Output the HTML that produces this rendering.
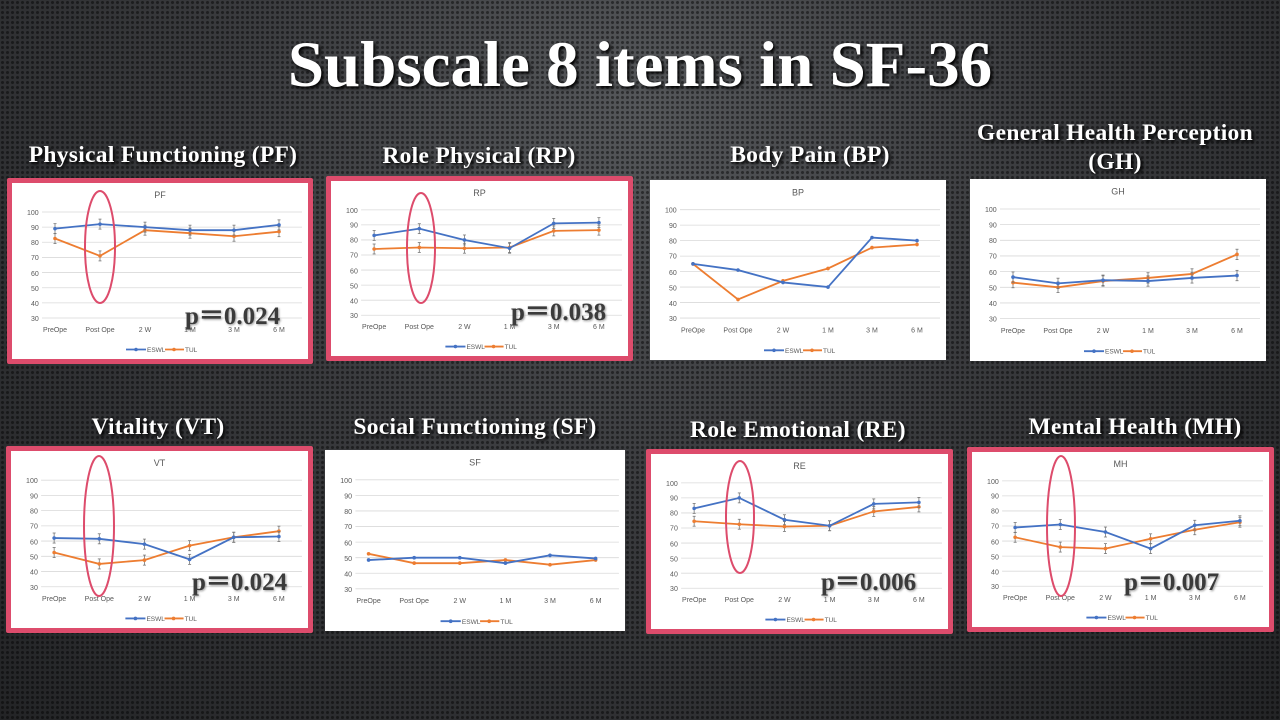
<!DOCTYPE html>
<html><head><meta charset="utf-8"><style>
html,body{margin:0;padding:0}
body{width:1280px;height:720px;overflow:hidden;position:relative;font-family:"Liberation Serif",serif;
background:radial-gradient(ellipse at 50% 15%,#55575a 0%,#3a3b3e 45%,#232426 100%);}
body:before{content:"";position:absolute;inset:0;background-image:radial-gradient(circle,rgba(0,0,0,0.45) 1.3px,transparent 1.8px);background-size:5px 5px;}
.h{position:absolute;color:#fff;font-weight:bold;text-align:center;white-space:nowrap;transform:translateX(-50%);text-shadow:2px 2px 3px #000}
.main{font-size:65px;left:640px;top:28px}
.t{font-size:23.5px;letter-spacing:0.3px}
.box{position:absolute;background:#fff}
.red{position:absolute;border:5px solid #dd4c6c;border-radius:2px}
.box svg{width:100%;height:100%;display:block}
.p{position:absolute;font-weight:bold;font-size:25px;color:#3b3b3b;text-shadow:1px 1px 2px #999;white-space:nowrap}
svg text{font-family:"Liberation Sans",sans-serif;fill:#595959}
</style></head><body>
<div class="h main">Subscale 8 items in SF-36</div>
<div class="h t" style="left:163px;top:142px">Physical Functioning (PF)</div>
<div class="h t" style="left:479px;top:143px">Role Physical (RP)</div>
<div class="h t" style="left:810px;top:142px">Body Pain (BP)</div>
<div class="h t" style="left:1115px;top:119px;line-height:29px">General Health Perception<br>(GH)</div>
<div class="h t" style="left:158px;top:414px">Vitality (VT)</div>
<div class="h t" style="left:475px;top:414px">Social Functioning (SF)</div>
<div class="h t" style="left:798px;top:417px">Role Emotional (RE)</div>
<div class="h t" style="left:1135px;top:414px">Mental Health (MH)</div>

<div class="red" style="left:7px;top:178px;width:296px;height:176px"></div>
<div class="red" style="left:326px;top:176px;width:297px;height:175px"></div>
<div class="red" style="left:6px;top:446px;width:297px;height:177px"></div>
<div class="red" style="left:646px;top:449px;width:297px;height:175px"></div>
<div class="red" style="left:967px;top:447px;width:297px;height:175px"></div>

<div class="box" style="left:12px;top:183px;width:296px;height:176px"><svg viewBox="0 0 296 176" preserveAspectRatio="none" class="c" data-e="89,92,90,88,88,91.5" data-t="82.5,71,88,86,84,87" data-err="1"><text x="148" y="15" font-size="9" text-anchor="middle">PF</text></svg></div>
<div class="box" style="left:331px;top:181px;width:297px;height:175px"><svg viewBox="0 0 296 176" preserveAspectRatio="none" class="c" data-e="83,87.5,80,74.5,91,91.5" data-t="74,75,74.5,75,86,86.5" data-err="1"><text x="148" y="15" font-size="9" text-anchor="middle">RP</text></svg></div>
<div class="box" style="left:650px;top:180px;width:296px;height:180px"><svg viewBox="0 0 296 176" preserveAspectRatio="none" class="c" data-e="65,61,53,50,82,80" data-t="65,42,54,62,75.5,77.5" data-err="0"><text x="148" y="15" font-size="9" text-anchor="middle">BP</text></svg></div>
<div class="box" style="left:970px;top:179px;width:296px;height:182px"><svg viewBox="0 0 296 176" preserveAspectRatio="none" class="c" data-e="56.5,52.5,54.5,54,56,57.5" data-t="53,50,54,56,58.5,71" data-err="1"><text x="148" y="15" font-size="9" text-anchor="middle">GH</text></svg></div>
<div class="box" style="left:11px;top:451px;width:297px;height:177px"><svg viewBox="0 0 296 176" preserveAspectRatio="none" class="c" data-e="62,61.5,58,48,62.5,63" data-t="52.5,45,47.5,57,62.5,66.5" data-err="1"><text x="148" y="15" font-size="9" text-anchor="middle">VT</text></svg></div>
<div class="box" style="left:325px;top:450px;width:300px;height:181px"><svg viewBox="0 0 296 176" preserveAspectRatio="none" class="c" data-e="48.5,50,50,46.5,51.5,49.5" data-t="52.5,46.5,46.5,48.5,45.5,48.5" data-err="0"><text x="148" y="15" font-size="9" text-anchor="middle">SF</text></svg></div>
<div class="box" style="left:651px;top:454px;width:297px;height:175px"><svg viewBox="0 0 296 176" preserveAspectRatio="none" class="c" data-e="83,90,75.5,71.5,86,87" data-t="74.5,72.5,71,71.5,81,84" data-err="1"><text x="148" y="15" font-size="9" text-anchor="middle">RE</text></svg></div>
<div class="box" style="left:972px;top:452px;width:297px;height:175px"><svg viewBox="0 0 296 176" preserveAspectRatio="none" class="c" data-e="69,71,66,55,70.5,73.5" data-t="62.5,56,55,61.5,67.5,72.5" data-err="1"><text x="148" y="15" font-size="9" text-anchor="middle">MH</text></svg></div>

<svg width="1280" height="720" style="position:absolute;left:0;top:0" fill="none" stroke="#dd4c6c" stroke-width="2">
<ellipse cx="100" cy="247" rx="15" ry="56"/>
<ellipse cx="421" cy="248" rx="14" ry="55"/>
<ellipse cx="99" cy="526" rx="15" ry="70"/>
<ellipse cx="740" cy="517" rx="14" ry="56"/>
<ellipse cx="1061" cy="526" rx="14" ry="70"/>
</svg>
<div class="p" style="left:185px;top:296px">p＝0.024</div>
<div class="p" style="left:511px;top:292px">p＝0.038</div>
<div class="p" style="left:192px;top:562px">p＝0.024</div>
<div class="p" style="left:821px;top:562px">p＝0.006</div>
<div class="p" style="left:1124px;top:562px">p＝0.007</div>

<template id="tx">
<text x="15" y="32" font-size="7">100</text><text x="19" y="47" font-size="7">90</text><text x="19" y="62" font-size="7">80</text><text x="19" y="77" font-size="7">70</text><text x="19" y="93" font-size="7">60</text><text x="19" y="108" font-size="7">50</text><text x="19" y="123" font-size="7">40</text><text x="19" y="138" font-size="7">30</text>
<text x="43" y="149" font-size="7" text-anchor="middle">PreOpe</text><text x="88" y="149" font-size="7" text-anchor="middle">Post Ope</text><text x="133" y="149" font-size="7" text-anchor="middle">2 W</text><text x="178" y="149" font-size="7" text-anchor="middle">1 M</text><text x="222" y="149" font-size="7" text-anchor="middle">3 M</text><text x="267" y="149" font-size="7" text-anchor="middle">6 M</text>
<text x="135" y="169" font-size="6.5">ESWL</text><text x="173" y="169" font-size="6.5">TUL</text>
</template>
<script>
var NS="http://www.w3.org/2000/svg",X=[43,88,133,178,222,267];
function Y(v){return 29+(100-v)*106/70;}
function el(p,n,a){var e=document.createElementNS(NS,n);for(var k in a)e.setAttribute(k,a[k]);p.appendChild(e);return e;}
var tpl=document.getElementById('tx').innerHTML;
document.querySelectorAll('svg.c').forEach(function(s){
  for(var v=30;v<=100;v+=10)el(s,'line',{x1:30,x2:290,y1:Y(v),y2:Y(v),stroke:'#d9d9d9','stroke-width':0.8});
  s.insertAdjacentHTML('beforeend',tpl);
  var err=s.getAttribute('data-err')=='1';
  [['data-t','#ed7d31'],['data-e','#4472c4']].forEach(function(d){
    var v=s.getAttribute(d[0]).split(',').map(Number);
    el(s,'polyline',{points:v.map(function(y,i){return X[i]+','+Y(y)}).join(' '),fill:'none',stroke:d[1],'stroke-width':1.8});
    v.forEach(function(y,i){
      if(err){var a=Y(y)-5,b=Y(y)+5;el(s,'line',{x1:X[i],x2:X[i],y1:a,y2:b,stroke:'#777','stroke-width':0.8});
        el(s,'line',{x1:X[i]-1.5,x2:X[i]+1.5,y1:a,y2:a,stroke:'#777','stroke-width':0.8});el(s,'line',{x1:X[i]-1.5,x2:X[i]+1.5,y1:b,y2:b,stroke:'#777','stroke-width':0.8});}
      el(s,'circle',{cx:X[i],cy:Y(y),r:1.8,fill:d[1]});
    });
  });
  el(s,'line',{x1:114,x2:134,y1:166.5,y2:166.5,stroke:'#4472c4','stroke-width':1.8});el(s,'circle',{cx:124,cy:166.5,r:1.8,fill:'#4472c4'});
  el(s,'line',{x1:153,x2:172,y1:166.5,y2:166.5,stroke:'#ed7d31','stroke-width':1.8});el(s,'circle',{cx:162,cy:166.5,r:1.8,fill:'#ed7d31'});
});
</script>
</body></html>
